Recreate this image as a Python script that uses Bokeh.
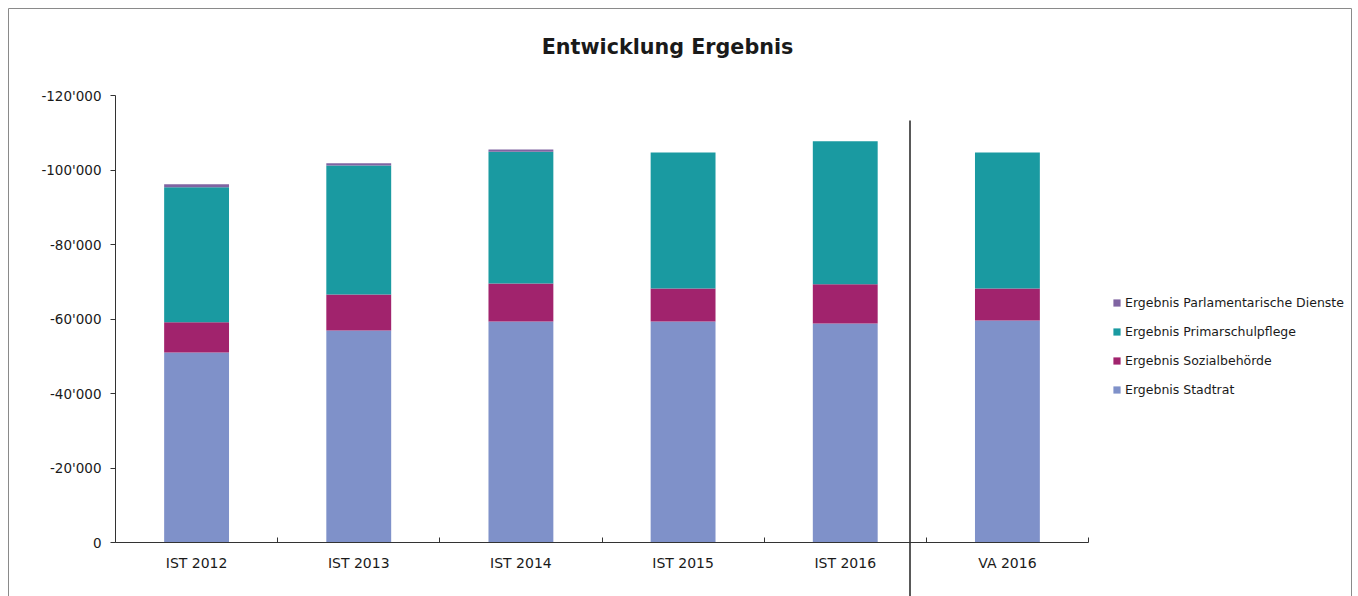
import numpy as np
from bokeh.plotting import figure
from bokeh.models import Range1d, LinearAxis, FixedTicker, Legend, LegendItem, Label
from bokeh.embed import file_html
from bokeh.resources import INLINE

# ---------------- data ----------------
categories = ["IST 2012", "IST 2013", "IST 2014", "IST 2015", "IST 2016", "VA 2016"]
stadtrat = [-51000, -56900, -59300, -59300, -58800, -59600]
sozialbehoerde = [-8100, -9700, -10200, -8900, -10500, -8600]
primarschulpflege = [-36300, -34600, -35400, -36500, -38400, -36500]
parlamentarische_dienste = [-800, -600, -600, 0, 0, 0]
series_names = ["Ergebnis Stadtrat", "Ergebnis Sozialbehörde",
                "Ergebnis Primarschulpflege", "Ergebnis Parlamentarische Dienste"]
y_ticks = [0, -20000, -40000, -60000, -80000, -100000, -120000]
title_text = "Entwicklung Ergebnis"

colors = ["#7F91C9", "#A1236D", "#1A9AA1", "#8064A2"]
FONT = "DejaVu Sans"
TXT = "#1a1a1a"

# ---------------- pixel layout helpers ----------------
W, H = 1358, 596
X0, X1 = 115, 1088        # pixel x of category axis start / end
Y0, Y1 = 542, 95          # pixel y of value 0 / -120000
YMIN = min(y_ticks)
ppx = (X1 - X0) / len(categories)
ppy = (Y0 - Y1) / abs(YMIN)


def xd(px):
    return (px - X0) / ppx


def yd(py):
    return -(Y0 - py) / ppy


p = figure(width=W, height=H, output_backend="svg", toolbar_location=None,
           x_range=Range1d(xd(0), xd(W)), y_range=Range1d(yd(H), yd(0)),
           x_axis_type=None, y_axis_type=None, min_border=0)
p.outline_line_color = None
p.background_fill_color = "white"
p.border_fill_color = "white"

# outer chart border
p.quad(left=xd(8), right=xd(1351), top=yd(8), bottom=yd(640),
       fill_color=None, line_color="#8a8a8a", line_width=1)

# ---------------- stacked bars ----------------
xs = np.arange(len(categories)) + 0.5
layers = [stadtrat, sozialbehoerde, primarschulpflege, parlamentarische_dienste]
bottom = np.zeros(len(categories))
renderers = []
for vals, col in zip(layers, colors):
    top = bottom + np.array(vals, dtype=float)
    r = p.vbar(x=xs, bottom=bottom, top=top, width=0.4,
               fill_color=col, line_color=None)
    renderers.append(r)
    bottom = top

# separator between IST and VA
p.segment(x0=[xd(909.5)], x1=[xd(909.5)], y0=[yd(120)], y1=[yd(640)],
          line_color="#222222", line_width=1.5)

# ---------------- axes ----------------
yaxis = LinearAxis(fixed_location=0, ticker=FixedTicker(ticks=y_ticks),
                   bounds=(YMIN, 0),
                   major_label_overrides={v: f"{v:,}".replace(",", "'") for v in y_ticks},
                   major_tick_out=5, major_tick_in=0,
                   minor_tick_out=0, minor_tick_in=0,
                   axis_line_color="#333333", major_tick_line_color="#333333",
                   major_label_text_font=FONT, major_label_text_font_size="13.5px",
                   major_label_text_color=TXT, major_label_standoff=9)
p.add_layout(yaxis, "left")

bounds_ticks = list(range(len(categories) + 1))
xaxis = LinearAxis(fixed_location=0, ticker=FixedTicker(ticks=bounds_ticks),
                   bounds=(0, len(categories)),
                   major_label_overrides={t: "" for t in bounds_ticks},
                   major_tick_in=5, major_tick_out=0,
                   minor_tick_in=0, minor_tick_out=0,
                   axis_line_color="#333333", major_tick_line_color="#333333")
p.add_layout(xaxis, "below")

xlab = LinearAxis(fixed_location=0, ticker=FixedTicker(ticks=list(xs)),
                  major_label_overrides={float(x): c for x, c in zip(xs, categories)},
                  axis_line_color=None, major_tick_line_color=None,
                  minor_tick_line_color=None,
                  major_label_text_font=FONT, major_label_text_font_size="14px",
                  major_label_text_color=TXT, major_label_standoff=6)
p.add_layout(xlab, "below")

# ---------------- title ----------------
p.add_layout(Label(x=xd(667), y=yd(46), text=title_text, text_align="center",
                   text_baseline="middle", text_font=FONT, text_font_style="bold",
                   text_font_size="20.7px", text_color=TXT))

# ---------------- legend ----------------
items = [LegendItem(label=n, renderers=[r]) for n, r in zip(series_names, renderers)][::-1]
legend = Legend(items=items, location=(1112, 199), padding=0, margin=0,
                spacing=14, label_height=15, glyph_height=9, glyph_width=9,
                label_standoff=4, border_line_color=None, background_fill_alpha=0,
                label_text_font=FONT, label_text_font_size="12.5px",
                label_text_color=TXT)
p.add_layout(legend)

open("out.html", "w").write(file_html(p, INLINE))
